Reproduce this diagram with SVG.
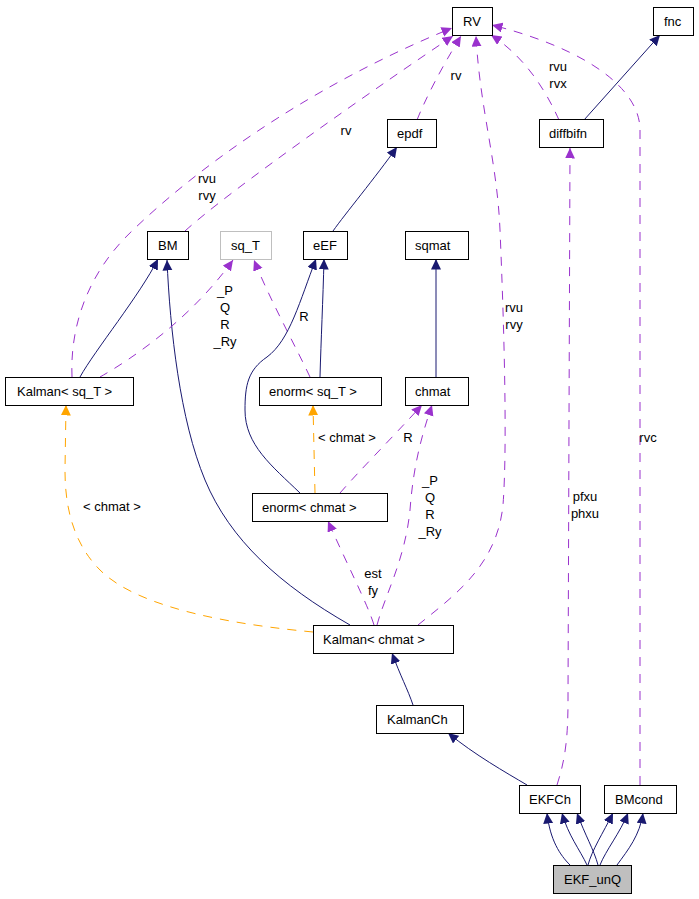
<svg xmlns="http://www.w3.org/2000/svg" width="699" height="899" viewBox="0 0 699 899">
<style>
text{font-family:"Liberation Sans",Arial,sans-serif;font-size:13px;fill:#000}
.n rect{fill:#fff;stroke:#000;stroke-width:1}
.lbl{text-anchor:middle}
.inh{fill:none;stroke:#191970;stroke-width:1;marker-end:url(#aN)}
.use{fill:none;stroke:#9a32cd;stroke-width:1;stroke-dasharray:9,8;marker-end:url(#aP)}
.tpl{fill:none;stroke:#ffa500;stroke-width:1;stroke-dasharray:9,8;marker-end:url(#aO)}
</style>
<defs>
<marker id="aN" markerUnits="userSpaceOnUse" markerWidth="12" markerHeight="11" refX="10.5" refY="5" orient="auto"><path d="M0,0 L10.5,5 L0,10 z" fill="#191970"/></marker>
<marker id="aP" markerUnits="userSpaceOnUse" markerWidth="12" markerHeight="11" refX="10.5" refY="5" orient="auto"><path d="M0,0 L10.5,5 L0,10 z" fill="#9a32cd"/></marker>
<marker id="aO" markerUnits="userSpaceOnUse" markerWidth="12" markerHeight="11" refX="10.5" refY="5" orient="auto"><path d="M0,0 L10.5,5 L0,10 z" fill="#ffa500"/></marker>
</defs>
<rect width="699" height="899" fill="#fff"/>
<g id="connectors">
<path class="inh" d="M584,120 L660,35"/>
<path class="inh" d="M333,231 C345,214 375,178 397,147"/>
<path class="use" d="M417,120 C425,100 440,70 461,36"/>
<path class="use" d="M72,377 C70,330 85,275 133,230 C190,175 300,90 452,28"/>
<path class="use" d="M185,231 C230,190 380,85 453,36"/>
<path class="use" d="M418,625 C455,595 497,565 503,505 C508,440 503,300 500,230 C497,160 480,110 476,36"/>
<path class="use" d="M559,120 C550,100 530,60 491,35"/>
<path class="use" d="M640,785 L640,130 C640,90 590,50 492,25"/>
<path class="use" d="M557,785 C565,760 568,740 568,700 L570,148"/>
<path class="inh" d="M80,377 C95,350 140,295 158,259"/>
<path class="inh" d="M350,625 C280,585 230,540 205,480 C180,420 170,330 167,260"/>
<path class="use" d="M100,377 C130,360 190,320 233,260"/>
<path class="use" d="M310,377 C295,345 270,300 254,260"/>
<path class="inh" d="M320,377 C321,340 323,300 324,259"/>
<path class="inh" d="M300,493 C272,466 245,445 245,410 C245,385 248,370 267,357 C290,340 300,300 316,259"/>
<path class="inh" d="M436,377 L436,259"/>
<path class="tpl" d="M315,493 L313,405"/>
<path class="use" d="M340,493 C360,470 390,440 422,405"/>
<path class="use" d="M377,625 C385,595 405,560 410,510 C413,470 420,440 432,405"/>
<path class="use" d="M374,625 C368,605 345,560 328,521"/>
<path class="tpl" d="M313,632 C240,625 140,610 100,570 C70,540 65,500 65,470 L66,405"/>
<path class="inh" d="M413,705 C408,690 400,675 392,653"/>
<path class="inh" d="M527,785 C505,772 475,755 448,733"/>
<path class="inh" d="M570,865 C560,855 550,840 547,813"/>
<path class="inh" d="M587,865 C580,850 568,835 562,813"/>
<path class="inh" d="M598,865 C594,850 585,835 577,813"/>
<path class="inh" d="M588,865 C592,850 603,833 613,813"/>
<path class="inh" d="M600,865 C606,850 620,833 628,813"/>
<path class="inh" d="M617,865 C628,850 640,835 643,813"/>
<text class="lbl" x="207" y="183">rvu</text>
<text class="lbl" x="207" y="200">rvy</text>
<text class="lbl" x="346" y="135">rv</text>
<text class="lbl" x="456" y="80">rv</text>
<text class="lbl" x="558" y="71">rvu</text>
<text class="lbl" x="558" y="88">rvx</text>
<text class="lbl" x="514" y="312">rvu</text>
<text class="lbl" x="514" y="329">rvy</text>
<text class="lbl" x="648" y="442">rvc</text>
<text class="lbl" x="585" y="501">pfxu</text>
<text class="lbl" x="585" y="518">phxu</text>
<text class="lbl" x="225" y="295">_P</text>
<text class="lbl" x="225" y="312">Q</text>
<text class="lbl" x="225" y="329">R</text>
<text class="lbl" x="225" y="346">_Ry</text>
<text class="lbl" x="304" y="321">R</text>
<text class="lbl" x="347" y="442">&lt; chmat &gt;</text>
<text class="lbl" x="408" y="442">R</text>
<text class="lbl" x="430" y="485">_P</text>
<text class="lbl" x="430" y="502">Q</text>
<text class="lbl" x="430" y="519">R</text>
<text class="lbl" x="430" y="536">_Ry</text>
<text class="lbl" x="373" y="578">est</text>
<text class="lbl" x="373" y="595">fy</text>
<text class="lbl" x="112" y="511">&lt; chmat &gt;</text>
</g>
<g id="RV" class="n"><rect x="452.5" y="7.5" width="40" height="28"/><text x="463" y="26">RV</text></g>
<g id="fnc" class="n"><rect x="653.5" y="7.5" width="40" height="28"/><text x="664" y="26">fnc</text></g>
<g id="epdf" class="n"><rect x="387.5" y="119.5" width="49" height="28"/><text x="397" y="138">epdf</text></g>
<g id="diffbifn" class="n"><rect x="539.5" y="119.5" width="64" height="28"/><text x="549" y="138">diffbifn</text></g>
<g id="BM" class="n"><rect x="147.5" y="231.5" width="41" height="28"/><text x="158" y="250">BM</text></g>
<g id="sq_T" class="n"><rect x="220.5" y="231.5" width="51" height="28" style="stroke:#bfbfbf"/><text x="231" y="250">sq_T</text></g>
<g id="eEF" class="n"><rect x="303.5" y="231.5" width="44" height="28"/><text x="313" y="250">eEF</text></g>
<g id="sqmat" class="n"><rect x="405.5" y="231.5" width="63" height="28"/><text x="415" y="250">sqmat</text></g>
<g id="Kalman_sq_T" class="n"><rect x="5.5" y="377.5" width="128" height="28"/><text x="17" y="396">Kalman&lt; sq_T &gt;</text></g>
<g id="enorm_sq_T" class="n"><rect x="259.5" y="377.5" width="122" height="28"/><text x="269" y="396">enorm&lt; sq_T &gt;</text></g>
<g id="chmat" class="n"><rect x="405.5" y="377.5" width="63" height="28"/><text x="415" y="396">chmat</text></g>
<g id="enorm_chmat" class="n"><rect x="252.5" y="493.5" width="135" height="28"/><text x="262" y="512">enorm&lt; chmat &gt;</text></g>
<g id="Kalman_chmat" class="n"><rect x="313.5" y="625.5" width="140" height="28"/><text x="323" y="644">Kalman&lt; chmat &gt;</text></g>
<g id="KalmanCh" class="n"><rect x="376.5" y="705.5" width="87" height="28"/><text x="387" y="724">KalmanCh</text></g>
<g id="EKFCh" class="n"><rect x="519.5" y="785.5" width="61" height="28"/><text x="529" y="804">EKFCh</text></g>
<g id="BMcond" class="n"><rect x="604.5" y="785.5" width="72" height="28"/><text x="615" y="804">BMcond</text></g>
<g id="EKF_unQ" class="n"><rect x="553.5" y="865.5" width="78" height="28" style="fill:#bfbfbf"/><text x="564" y="884">EKF_unQ</text></g>
</svg>
